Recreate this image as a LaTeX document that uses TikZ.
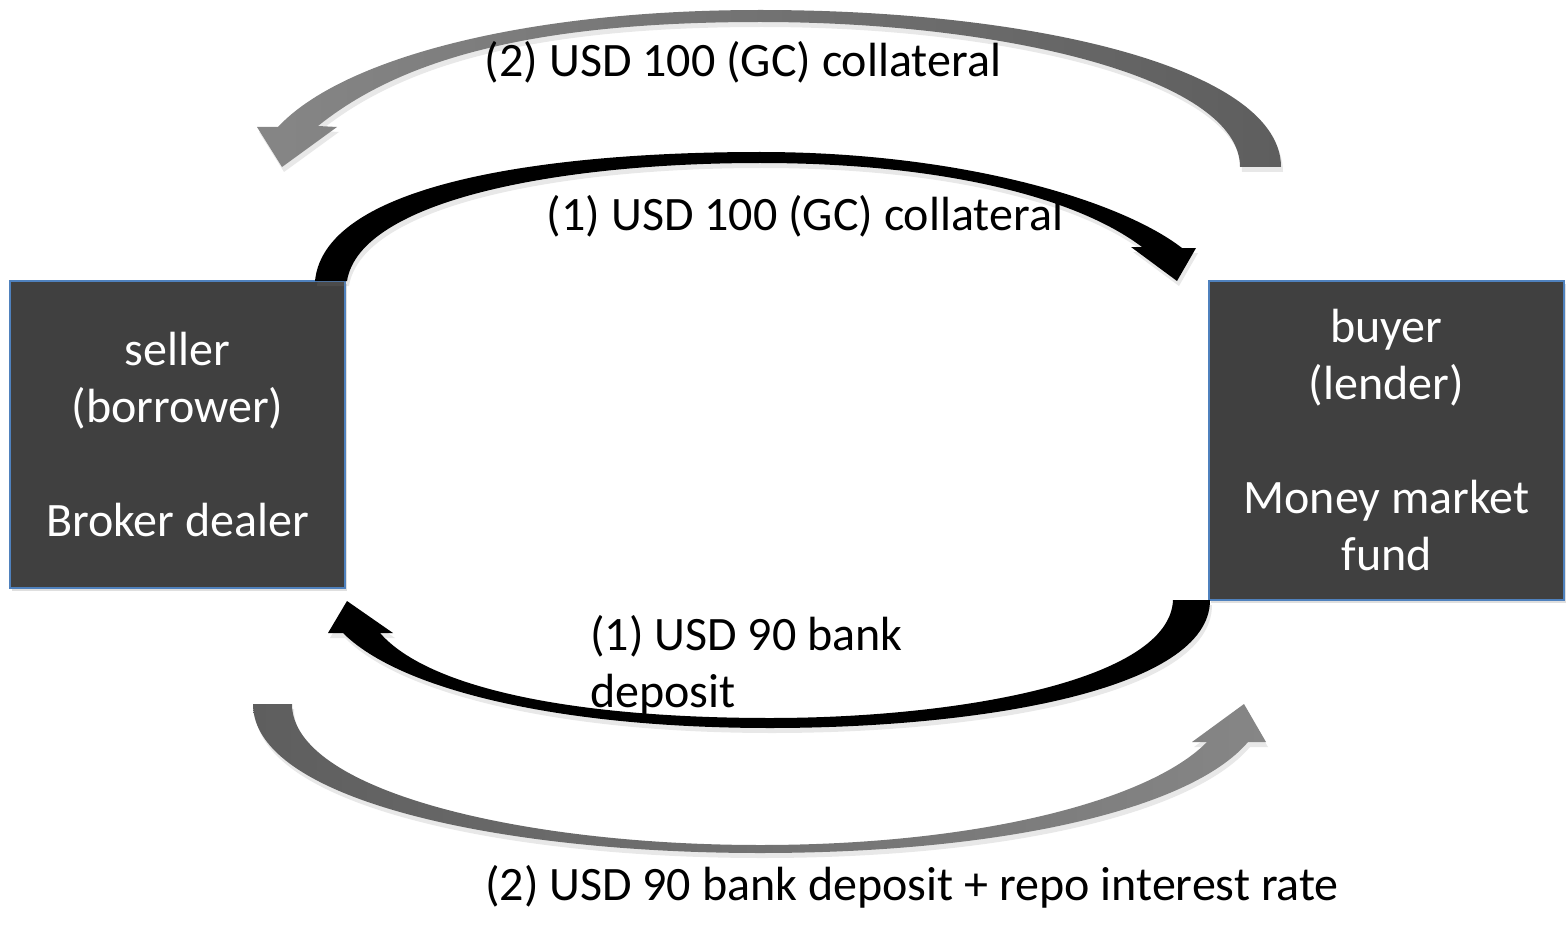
\documentclass[tikz,border=0pt]{standalone}
\usepackage{fontspec}
\setmainfont{Carlito}
\usetikzlibrary{shadows}
\definecolor{boxfill}{HTML}{404040}
\definecolor{boxline}{HTML}{4F81BD}
\definecolor{graydark}{HTML}{5E5E5E}
\definecolor{graylight}{HTML}{868686}
\begin{document}
\begin{tikzpicture}[x=1pt,y=-1pt,
  font=\fontsize{48}{57}\selectfont,
  party/.style={draw=boxline, line width=1.5pt, fill=boxfill, text=white,
    align=center, inner sep=0pt,
    drop shadow={opacity=0.25, shadow xshift=2pt, shadow yshift=-3pt}},
  lbl/.style={inner sep=0pt, text=black},
  shad/.style={drop shadow={opacity=0.18, shadow xshift=2pt, shadow yshift=-5pt}}]
\useasboundingbox (0,0) rectangle (1566,944);

% parties
\node[party, minimum width=335, minimum height=307] (L) at (177.5,434.5)
  {seller\\(borrower)\\[57pt]Broker dealer};
\node[party, minimum width=355, minimum height=319] (R) at (1386.5,440.5)
  {buyer\\(lender)\\[57pt]Money market\\fund};

% (1) collateral: black, seller -> buyer
\fill[black, shad] (315,281) .. controls (325,180) and (560,152) .. (760,152)
  .. controls (960,152) and (1120,200) .. (1182,248)
  -- (1196,248) -- (1177,281) -- (1131,247) -- (1142,247)
  .. controls (1080,200) and (950,163) .. (760,163)
  .. controls (560,163) and (360,200) .. (347,281) -- cycle;

% (2) collateral: gray, buyer -> seller
\shade[left color=graylight, right color=graydark, shad]
  (1281,167) .. controls (1281,70) and (1040,10) .. (760,10)
  .. controls (520,10) and (340,60) .. (278,127)
  -- (257,127) -- (282,167) -- (337,127) -- (318,126)
  .. controls (400,60) and (530,22) .. (760,22)
  .. controls (1010,22) and (1240,80) .. (1240,167) -- cycle;

% (1) deposit: black, buyer -> seller
\fill[black, shad] (1210,600) .. controls (1210,690) and (980,728) .. (770,728)
  .. controls (560,728) and (400,690) .. (343,633)
  -- (328,633) -- (347,601) -- (393,633) -- (380,633)
  .. controls (430,690) and (580,718) .. (770,718)
  .. controls (960,718) and (1170,680) .. (1173,600) -- cycle;

% (2) deposit: gray, seller -> buyer
\shade[left color=graydark, right color=graylight, shad]
  (253,704) .. controls (253,800) and (500,853) .. (760,853)
  .. controls (1000,853) and (1190,810) .. (1248,742)
  -- (1266,742) -- (1244,704) -- (1192,742) -- (1207,742)
  .. controls (1150,800) and (980,845) .. (760,845)
  .. controls (520,845) and (292,790) .. (292,704) -- cycle;

% labels
\node[lbl] (t2) at (743,62) {(2) USD 100 (GC) collateral};
\node[lbl] (t1) at (805,216) {(1) USD 100 (GC) collateral};
\node[lbl, anchor=west, align=left] (b1) at (590,665) {(1) USD 90 bank\\deposit};
\node[lbl] (b2) at (912,887) {(2) USD 90 bank deposit + repo interest rate};
\end{tikzpicture}
\end{document}
